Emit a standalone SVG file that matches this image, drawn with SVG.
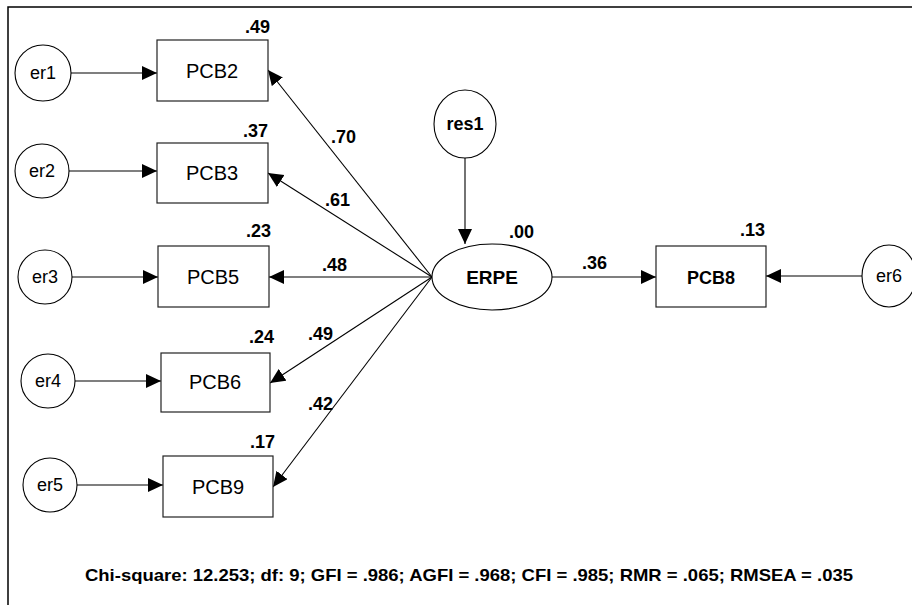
<svg xmlns="http://www.w3.org/2000/svg" width="912" height="605" viewBox="0 0 912 605">
<style>
  .frame { stroke: #000; stroke-width: 1.5; fill: none; }
  .box { fill: #fff; stroke: #222; stroke-width: 1.2; }
  .lat { fill: #fff; stroke: #000; stroke-width: 1.1; }
  .conn line { stroke: #000; stroke-width: 1.1; marker-end: url(#ah); }
  .lbl { font-family: "Liberation Sans", Arial, sans-serif; font-size: 20px; fill: #000; text-anchor: middle; }
  .lble { font-family: "Liberation Sans", Arial, sans-serif; font-size: 18px; fill: #000; text-anchor: middle; }
  .lblb { font-family: "Liberation Sans", Arial, sans-serif; font-size: 18px; font-weight: bold; fill: #000; text-anchor: middle; }
  .num { font-family: "Liberation Sans", Arial, sans-serif; font-size: 18px; font-weight: bold; fill: #000; }
  .fit { font-family: "Liberation Sans", Arial, sans-serif; font-size: 17px; font-weight: bold; fill: #000; }
</style>
<defs>
  <marker id="ah" markerUnits="userSpaceOnUse" markerWidth="17" markerHeight="15" refX="15" refY="7" orient="auto">
    <path d="M0,0 L15,7 L0,14 Z" fill="#000"/>
  </marker>
</defs>
<rect x="0" y="0" width="912" height="605" fill="#fff"/>
<path class="frame" d="M8,605 L8,7 L912,7"/>

<g id="connectors" class="conn">
  <line x1="71" y1="73" x2="157" y2="73"/>
  <line x1="69" y1="171" x2="157" y2="171"/>
  <line x1="72" y1="277" x2="158" y2="277"/>
  <line x1="75" y1="381" x2="161" y2="381"/>
  <line x1="77" y1="485" x2="163" y2="485"/>
  <line x1="465" y1="158" x2="465" y2="244"/>
  <line x1="552" y1="277" x2="656" y2="277"/>
  <line x1="862" y1="276" x2="766" y2="276"/>
  <line x1="432" y1="277" x2="268" y2="70"/>
  <line x1="432" y1="277" x2="268" y2="173"/>
  <line x1="432" y1="277" x2="269" y2="277"/>
  <line x1="432" y1="277" x2="270" y2="383"/>
  <line x1="432" y1="277" x2="273" y2="487"/>
</g>

<g id="er1"><circle class="lat" cx="43" cy="73" r="28"/><text class="lble" x="43" y="79">er1</text></g>
<g id="er2"><circle class="lat" cx="42" cy="171" r="27"/><text class="lble" x="42" y="177">er2</text></g>
<g id="er3"><circle class="lat" cx="45" cy="277" r="27"/><text class="lble" x="45" y="283">er3</text></g>
<g id="er4"><circle class="lat" cx="48" cy="381" r="27"/><text class="lble" x="48" y="387">er4</text></g>
<g id="er5"><circle class="lat" cx="50" cy="485" r="27"/><text class="lble" x="50" y="491">er5</text></g>

<g id="PCB2"><rect class="box" x="157" y="40" width="111" height="61"/><text class="lbl" x="212" y="78">PCB2</text><text class="num" x="245" y="33">.49</text></g>
<g id="PCB3"><rect class="box" x="157" y="143" width="111" height="60"/><text class="lbl" x="212" y="180">PCB3</text><text class="num" x="243" y="137">.37</text></g>
<g id="PCB5"><rect class="box" x="158" y="246" width="111" height="61"/><text class="lbl" x="213" y="284">PCB5</text><text class="num" x="246" y="237">.23</text></g>
<g id="PCB6"><rect class="box" x="161" y="353" width="109" height="59"/><text class="lbl" x="215" y="389">PCB6</text><text class="num" x="249" y="343">.24</text></g>
<g id="PCB9"><rect class="box" x="163" y="456" width="110" height="61"/><text class="lbl" x="218" y="494">PCB9</text><text class="num" x="250" y="448">.17</text></g>

<g id="res1"><ellipse class="lat" cx="465" cy="124" rx="31" ry="34"/><text class="lblb" x="465" y="130">res1</text></g>
<g id="ERPE"><ellipse class="lat" cx="492" cy="277" rx="60" ry="33"/><text class="lblb" x="492" y="284" style="font-size:19px">ERPE</text><text class="num" x="509" y="238">.00</text></g>
<g id="PCB8"><rect class="box" x="656" y="246" width="110" height="61"/><text class="lblb" x="711" y="284">PCB8</text><text class="num" x="740" y="236">.13</text></g>
<g id="er6"><ellipse class="lat" cx="889" cy="276" rx="27" ry="31"/><text class="lble" x="889" y="282">er6</text></g>

<g id="path-labels">
  <text class="num" x="331" y="143">.70</text>
  <text class="num" x="325" y="206">.61</text>
  <text class="num" x="322" y="271">.48</text>
  <text class="num" x="308" y="340">.49</text>
  <text class="num" x="308" y="410">.42</text>
  <text class="num" x="582" y="269">.36</text>
</g>

<text class="fit" x="85" y="581" textLength="768" lengthAdjust="spacingAndGlyphs">Chi-square: 12.253; df: 9; GFI = .986; AGFI = .968; CFI = .985; RMR = .065; RMSEA = .035</text>
</svg>
